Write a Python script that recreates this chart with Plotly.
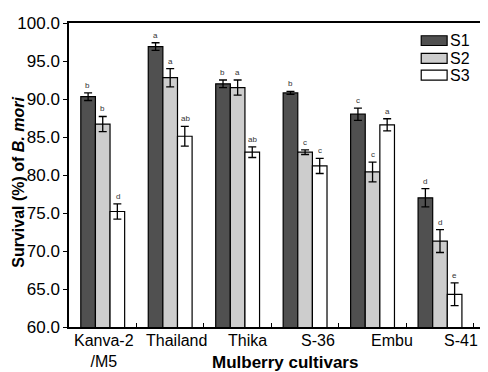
import plotly.graph_objects as go

categories = ["Kanva-2<br>/M5", "Thailand", "Thika", "S-36", "Embu", "S-41"]
series_names = ["S1", "S2", "S3"]
s1 = [90.3, 96.9, 92.0, 90.8, 88.0, 77.0]
s2 = [86.7, 92.8, 91.5, 83.0, 80.4, 71.3]
s3 = [75.2, 85.1, 83.0, 81.2, 86.6, 64.3]
s1_err = [0.5, 0.5, 0.5, 0.2, 0.8, 1.2]
s2_err = [1.0, 1.2, 1.0, 0.3, 1.3, 1.5]
s3_err = [1.0, 1.3, 0.7, 1.0, 0.8, 1.5]
s1_letters = ["b", "a", "b", "b", "c", "d"]
s2_letters = ["b", "a", "a", "c", "c", "d"]
s3_letters = ["d", "ab", "ab", "c", "a", "e"]
y_ticks = [60, 65, 70, 75, 80, 85, 90, 95, 100]

values = [s1, s2, s3]
errors = [s1_err, s2_err, s3_err]
letters = [s1_letters, s2_letters, s3_letters]
colors = ["#505050", "#cdcdcd", "#ffffff"]

FONT = "Liberation Sans, Arial, sans-serif"

fig = go.Figure()
for name, v, e, c in zip(series_names, values, errors, colors):
    fig.add_trace(go.Bar(
        x=categories, y=v, name=name, showlegend=False,
        marker=dict(color=c, line=dict(color="black", width=1.2)),
        error_y=dict(type="data", array=e, visible=True, color="black",
                     thickness=1.3, width=4),
    ))

# page body adds an 8px offset, so the figure is 8px smaller than the window
W, H = 480, 364
ml, mr, mt, mb = 61, 6, 10, 45
bargap = 0.35
group_px = (W - ml - mr) / len(categories)
bar_px = group_px * (1 - bargap) / 3

annotations = []
for si, (v, e, lt) in enumerate(zip(values, errors, letters)):
    for ci, cat in enumerate(categories):
        annotations.append(dict(
            x=cat, y=v[ci] + e[ci], text=lt[ci], showarrow=False,
            xref="x", yref="y", yanchor="bottom", xanchor="center",
            xshift=(si - 1) * bar_px, yshift=1,
            font=dict(size=8, color="#333", family=FONT),
        ))

# category tick labels (slightly drifting to the right as in the reference)
label_shifts = [1, 6, 10, 13, 19, 21]
for cat, sh in zip(categories, label_shifts):
    annotations.append(dict(
        x=cat, y=0, xref="x", yref="paper", yanchor="top", xanchor="center",
        yshift=-3, xshift=sh, showarrow=False, text=cat,
        font=dict(size=16, color="black", family=FONT),
    ))

annotations.append(dict(
    x=0.525, y=-0.117, xref="paper", yref="paper", showarrow=False,
    text="<b>Mulberry cultivars</b>", xanchor="center", yanchor="middle",
    font=dict(size=17, color="black", family=FONT)))
annotations.append(dict(
    x=-0.123, y=0.476, xref="paper", yref="paper", showarrow=False,
    text="<b>Survival (%) of <i>B. mori</i></b>", textangle=-90,
    xanchor="center", yanchor="middle",
    font=dict(size=16, color="black", family=FONT)))

# legend drawn as boxes + real text
legend_rows = [(0.958, 0.926), (0.900, 0.867), (0.845, 0.812)]
shapes = []
for name, c, (y1, y0) in zip(series_names, colors, legend_rows):
    shapes.append(dict(type="rect", xref="paper", yref="paper",
                       x0=0.857, x1=0.920, y0=y0, y1=y1,
                       fillcolor=c, line=dict(color="black", width=1.2)))
    annotations.append(dict(x=0.922, y=(y0 + y1) / 2, xref="paper",
                            yref="paper", xanchor="left", yanchor="middle",
                            showarrow=False, text=name,
                            font=dict(size=16, color="black", family=FONT)))

fig.update_layout(
    width=W, height=H,
    margin=dict(l=ml, r=mr, t=mt, b=mb),
    paper_bgcolor="white", plot_bgcolor="white",
    barmode="group", bargap=bargap, bargroupgap=0,
    font=dict(family=FONT, color="black"),
    showlegend=False,
    annotations=annotations, shapes=shapes,
)
fig.update_xaxes(
    showline=True, linecolor="black", linewidth=1.5, mirror=True,
    ticks="inside", tickson="boundaries", ticklen=4, tickcolor="black",
    showticklabels=False,
)
fig.update_yaxes(
    range=[60, 100], tickvals=y_ticks, tickformat=".1f",
    showline=True, linecolor="black", linewidth=1.5, mirror=True,
    ticks="outside", ticklen=4, tickcolor="black", showgrid=False,
    tickfont=dict(size=17, family=FONT), zeroline=False,
)
fig.write_html("out.html")
